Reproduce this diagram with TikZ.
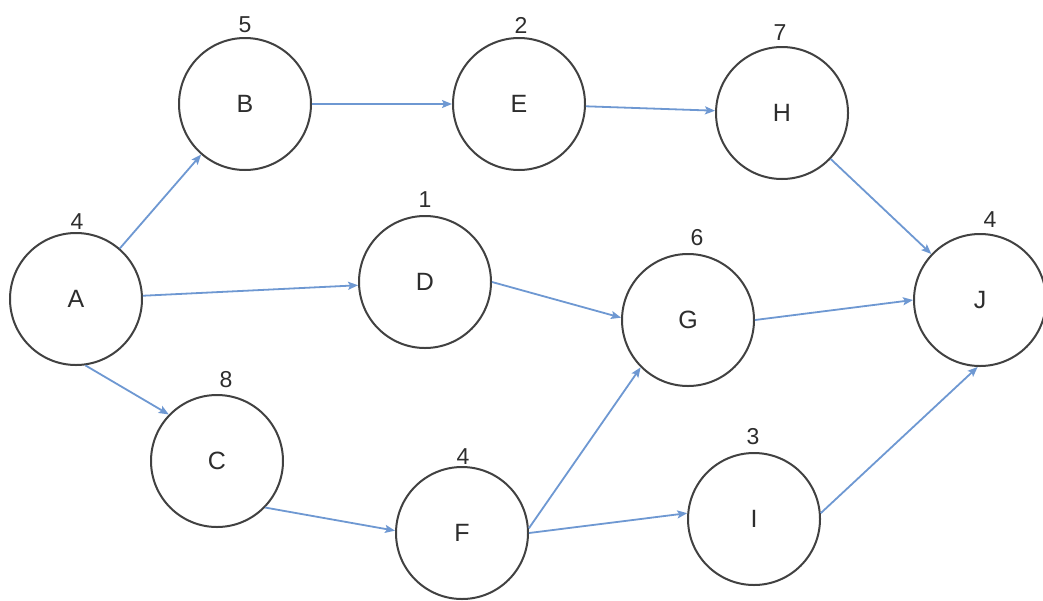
\documentclass[tikz,border=0pt]{standalone}
\usepackage{fontspec}
\setmainfont{Liberation Sans}
\usetikzlibrary{arrows.meta}
\definecolor{edgeblue}{RGB}{110,152,210}
\definecolor{ringgray}{RGB}{65,65,65}
\definecolor{txtgray}{RGB}{45,45,45}
\tikzset{
  act/.style={circle, draw=ringgray, line width=2pt, minimum size=132pt, inner sep=0pt,
    text=txtgray, font=\fontsize{25}{25}\selectfont},
  dur/.style={text=txtgray, font=\fontsize{23}{23}\selectfont, inner sep=0pt},
  flow/.style={draw=edgeblue, line width=1.8pt, -{Stealth[length=10pt,width=8pt,inset=2pt]}}
}
\begin{document}
\begin{tikzpicture}[x=1pt,y=-1pt]
\useasboundingbox (0,0) rectangle (1043,600);
\fill[white] (0,0) rectangle (1043,600);
% activities
\node[act] (A) at (76,299) {A};
\node[act] (B) at (245,104) {B};
\node[act] (E) at (519,104) {E};
\node[act] (H) at (782,113) {H};
\node[act] (D) at (425,282) {D};
\node[act] (G) at (688,320) {G};
\node[act] (J) at (980,300) {J};
\node[act] (C) at (217,461) {C};
\node[act] (F) at (462,533) {F};
\node[act] (I) at (754,519) {I};
% durations
\node[dur] (lA) at (77,222) {4};
\node[dur] (lB) at (245,25) {5};
\node[dur] (lE) at (521,25) {2};
\node[dur] (lH) at (780,33) {7};
\node[dur] (lD) at (425,200) {1};
\node[dur] (lG) at (697,238) {6};
\node[dur] (lJ) at (990,220) {4};
\node[dur] (lC) at (226,380) {8};
\node[dur] (lF) at (463,457) {4};
\node[dur] (lI) at (753,437) {3};
% dependencies
\draw[flow] (A) -- (B);
\draw[flow] (A) -- (D);
\draw[flow] (A.-82) -- (C.136);
\draw[flow] (B) -- (E);
\draw[flow] (E) -- (H);
\draw[flow] (H) -- (J);
\draw[flow] (D.east) -- (G.178);
\draw[flow] (G.east) -- (J.west);
\draw[flow] (C.-44) -- (F.178);
\draw[flow] (F.4) -- (G.-135);
\draw[flow] (F.east) -- (I.175);
\draw[flow] (I.5) -- (J.-92);
\end{tikzpicture}
\end{document}
